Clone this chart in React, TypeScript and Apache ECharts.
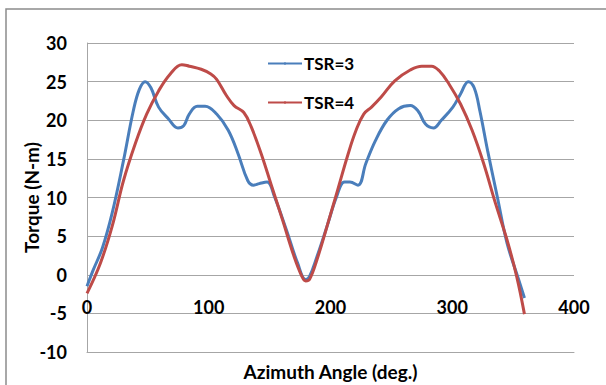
import React, { useEffect, useRef } from "react";
import * as echarts from "echarts";

const xTicks = [0, 100, 200, 300, 400];
const yTicks = [-10, -5, 0, 5, 10, 15, 20, 25, 30];

const tsr3Angle = [0, 4.8, 12.7, 20.7, 30, 38, 43, 47.7, 52.5, 58.8, 66.8, 74.7, 79.5, 84, 90.6, 97, 106.5, 116, 124, 132, 136.7, 141.5, 147.9, 154, 163.8, 173, 179.6, 182.8, 189, 197, 205, 211.5, 216, 222.6, 229, 237, 246.4, 256, 265.5, 271.9, 278, 284.6, 291, 300.5, 306.8, 313.2, 318, 322.7, 329, 337, 345, 354.5, 359.3];
const tsr3Torque = [-1.5, 0.5, 3.5, 8, 14.8, 21.2, 24, 25, 24.2, 21.7, 20.2, 19, 19.3, 20.8, 21.8, 21.8, 20.8, 18.7, 15.7, 12.2, 11.6, 11.8, 12, 10.1, 5.8, 1.5, -0.6, -0.2, 2.4, 6.2, 10.1, 12, 12, 11.6, 14.4, 17.4, 20, 21.5, 21.9, 21.2, 19.5, 19, 20, 21.7, 23.4, 25, 24.2, 21.2, 16.1, 10.1, 4.1, -0.6, -3];

const tsr4Angle = [0, 11, 20.7, 30, 39.7, 49, 58.8, 68.4, 77.9, 84, 93.8, 101.7, 106.5, 114.5, 120.8, 128.8, 135, 143, 151, 160.6, 170, 176.5, 179.6, 182.8, 189, 198.7, 205, 214.6, 221, 227.3, 233.7, 241.6, 252.8, 265.5, 275, 283, 289.3, 297.3, 306.8, 316.3, 325.8, 335.4, 345, 352.9, 359.3];
const tsr4Torque = [-2.4, 1.5, 6.3, 12.2, 17, 20.8, 23.8, 26, 27.2, 27, 26.6, 26, 25.3, 23.2, 21.9, 21, 19.1, 15.7, 11.8, 7.1, 2.4, -0.2, -0.8, -0.6, 2, 7.1, 10.5, 15.7, 18.7, 20.8, 21.7, 23, 25.1, 26.5, 27, 27, 26.4, 24.7, 22.1, 18.7, 14.4, 9.3, 4.5, -0.2, -5.1];

const FONT = "Lato, 'Open Sans', sans-serif";

export default function App() {
  const ref = useRef<HTMLDivElement>(null);
  useEffect(() => {
    if (!ref.current) return;
    const chart = echarts.init(ref.current, undefined, { renderer: "svg" });
    const pair = (xs: number[], ys: number[]) => xs.map((x, i) => [x, ys[i]]);
    chart.setOption({
      animation: false,
      backgroundColor: "#ffffff",
      textStyle: { fontFamily: FONT },
      graphic: [
        {
          type: "rect",
          shape: { x: 6, y: 9, width: 700, height: 500 },
          style: { fill: "none", stroke: "#8c8c8c", lineWidth: 1.5 },
          silent: true,
          z: 0,
        },
      ],
      legend: {
        orient: "vertical",
        left: 262,
        top: 50,
        itemWidth: 34,
        itemHeight: 3,
        itemGap: 22,
        textStyle: {
          fontFamily: FONT,
          fontSize: 17,
          fontWeight: "bold",
          color: "#000",
          padding: [0, 0, 0, -3],
        },
        data: ["TSR=3", "TSR=4"],
      },
      grid: { left: 87, right: 32, top: 43, bottom: 33, outerBoundsMode: "none", containLabel: false },
      xAxis: {
        type: "value",
        min: xTicks[0],
        max: xTicks[xTicks.length - 1],
        interval: 100,
        axisLine: { show: true, onZero: false, lineStyle: { color: "#a6a6a6", width: 1 } },
        axisTick: { show: false },
        splitLine: { show: false },
        axisLabel: {
          margin: -54,
          fontFamily: FONT,
          fontSize: 18,
          fontWeight: "bold",
          color: "#000",
        },
        name: "Azimuth Angle (deg.)",
        nameLocation: "middle",
        nameGap: 10,
        nameMoveOverlap: false,
        nameTextStyle: { fontFamily: FONT, fontSize: 19, fontWeight: "bold", color: "#000" },
      },
      yAxis: {
        type: "value",
        min: yTicks[0],
        max: yTicks[yTicks.length - 1],
        interval: 5,
        axisLine: { show: true, lineStyle: { color: "#a6a6a6", width: 1 } },
        axisTick: { show: false },
        splitLine: { show: true, lineStyle: { color: "#a6a6a6", width: 1 } },
        axisLabel: {
          margin: 20,
          fontFamily: FONT,
          fontSize: 18,
          fontWeight: "bold",
          color: "#000",
        },
        name: "Torque (N-m)",
        nameLocation: "middle",
        nameGap: 46,
        nameMoveOverlap: false,
        nameTextStyle: { fontFamily: FONT, fontSize: 19, fontWeight: "bold", color: "#000" },
      },
      series: [
        {
          name: "TSR=3",
          type: "line",
          smooth: 0.4,
          symbol: "none",
          data: pair(tsr3Angle, tsr3Torque),
          lineStyle: { color: "#4a7ebb", width: 3 },
          itemStyle: { color: "#4a7ebb" },
          z: 3,
        },
        {
          name: "TSR=4",
          type: "line",
          smooth: 0.4,
          symbol: "none",
          data: pair(tsr4Angle, tsr4Torque),
          lineStyle: { color: "#be4b48", width: 3 },
          itemStyle: { color: "#be4b48" },
          z: 4,
        },
      ],
    });
    return () => chart.dispose();
  }, []);
  return (
    <div
      ref={ref}
      style={{ position: "absolute", left: 0, top: 0, width: 606, height: 385 }}
    />
  );
}
